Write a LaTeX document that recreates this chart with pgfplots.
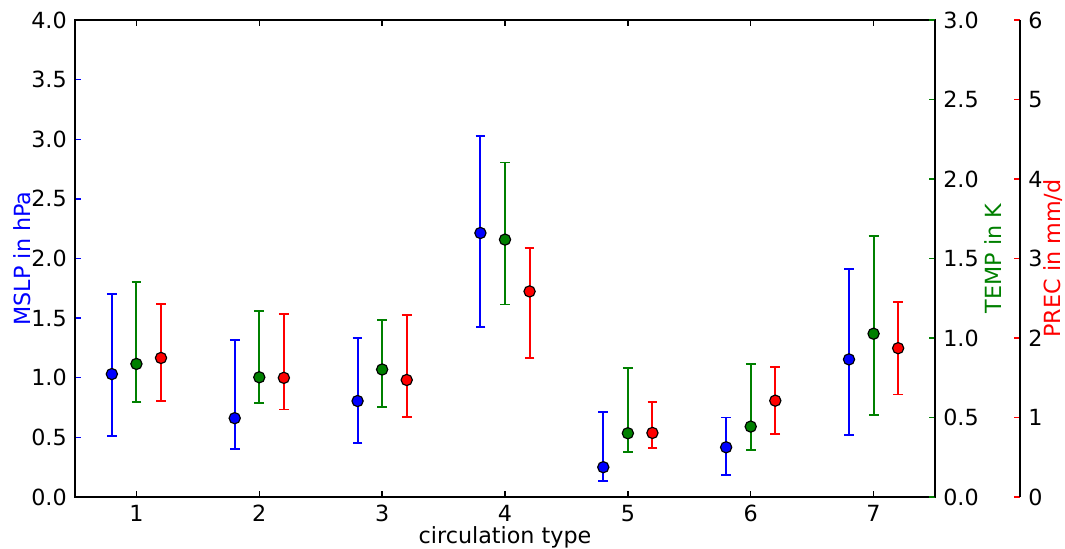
\documentclass[border=0pt]{standalone}
\usepackage{fontspec}
\setmainfont{DejaVu Sans}
\usepackage{pgfplots}
\pgfplotsset{compat=1.18}
\definecolor{mplgreen}{rgb}{0,0.5,0}

\pgfplotsset{
  base/.style={
    scale only axis, width=12.9cm, height=7.155cm,
    xmin=0.5, xmax=7.5, ymin=0,
    font=\fontsize{9.5}{11}\selectfont,
    /pgf/number format/assume math mode=true,
    tick align=inside, major tick length=0.09cm,
    every tick/.style={line width=0.6pt},
    axis line style={line width=0.8pt},
  },
  eb/.style={
    only marks, mark=*, color=#1, mark size=2.4pt,
    mark options={draw=black, fill=#1, line width=0.5pt},
    error bars/.cd, y dir=both, y explicit,
    error bar style={line width=0.8pt, #1},
    error mark options={rotate=90, mark size=2.1pt, line width=0.8pt, #1},
  },
}

\begin{document}
\begin{tikzpicture}
% MSLP, left axis
\begin{axis}[base, ymax=4,
    xtick={1,...,7}, xtick pos=both, ytick pos=left,
    ytick={0,0.5,...,4},
    ytick style={draw=blue}, xtick style={draw=black},
    yticklabel style={/pgf/number format/.cd, fixed, fixed zerofill, precision=1},
    xlabel={circulation type},
    xlabel style={at={(rel axis cs:0.5,0)}, anchor=center, yshift=-0.6cm},
    ylabel={MSLP in hPa},
    ylabel style={blue, at={(rel axis cs:0,0.5)}, anchor=center, yshift=0.795cm},
  ]
  \coordinate (ll) at (rel axis cs:0,0);
  \coordinate (ur) at (rel axis cs:1,1);
  \addplot+[eb=blue] coordinates {
    (0.8,1.031) += (0,0.669) -= (0,0.517)
    (1.8,0.661) += (0,0.652) -= (0,0.262)
    (2.8,0.805) += (0,0.531) -= (0,0.353)
    (3.8,2.214) += (0,0.814) -= (0,0.790)
    (4.8,0.250) += (0,0.461) -= (0,0.118)
    (5.8,0.417) += (0,0.250) -= (0,0.235)
    (6.8,1.154) += (0,0.758) -= (0,0.631)
  };
\end{axis}
% TEMP, right axis
\begin{axis}[base, ymax=3,
    axis x line=none, axis y line*=right,
    ytick={0,0.5,...,3}, ytick style={draw=mplgreen},
    yticklabel style={/pgf/number format/.cd, fixed, fixed zerofill, precision=1},
    ylabel={TEMP in K},
    ylabel style={mplgreen, at={(rel axis cs:1,0.5)}, anchor=center, yshift=-0.87cm},
  ]
  \addplot+[eb=mplgreen] coordinates {
    (1,0.837) += (0,0.513) -= (0,0.238)
    (2,0.753) += (0,0.415) -= (0,0.160)
    (3,0.802) += (0,0.310) -= (0,0.236)
    (4,1.619) += (0,0.485) -= (0,0.408)
    (5,0.401) += (0,0.412) -= (0,0.119)
    (6,0.443) += (0,0.392) -= (0,0.146)
    (7,1.027) += (0,0.614) -= (0,0.512)
  };
\end{axis}
% PREC, offset right axis
\begin{axis}[base, width=14.175cm, xmax=8.1919, ymax=6,
    axis x line=none, axis y line*=right,
    ytick={0,...,6}, ytick style={draw=red},
    ylabel={PREC in mm/d},
    ylabel style={red, at={(rel axis cs:1,0.5)}, anchor=center, yshift=-0.5cm},
  ]
  \addplot+[eb=red] coordinates {
    (1.2,1.749) += (0,0.683) -= (0,0.541)
    (2.2,1.499) += (0,0.805) -= (0,0.398)
    (3.2,1.472) += (0,0.814) -= (0,0.462)
    (4.2,2.586) += (0,0.551) -= (0,0.837)
    (5.2,0.806) += (0,0.384) -= (0,0.194)
    (6.2,1.212) += (0,0.428) -= (0,0.423)
    (7.2,1.872) += (0,0.578) -= (0,0.582)
  };
\end{axis}
\pgfresetboundingbox
\path[use as bounding box] ([shift={(-1.125cm,-0.765cm)}]ll) rectangle ([shift={(1.95cm,0.3cm)}]ur);
\end{tikzpicture}
\end{document}
